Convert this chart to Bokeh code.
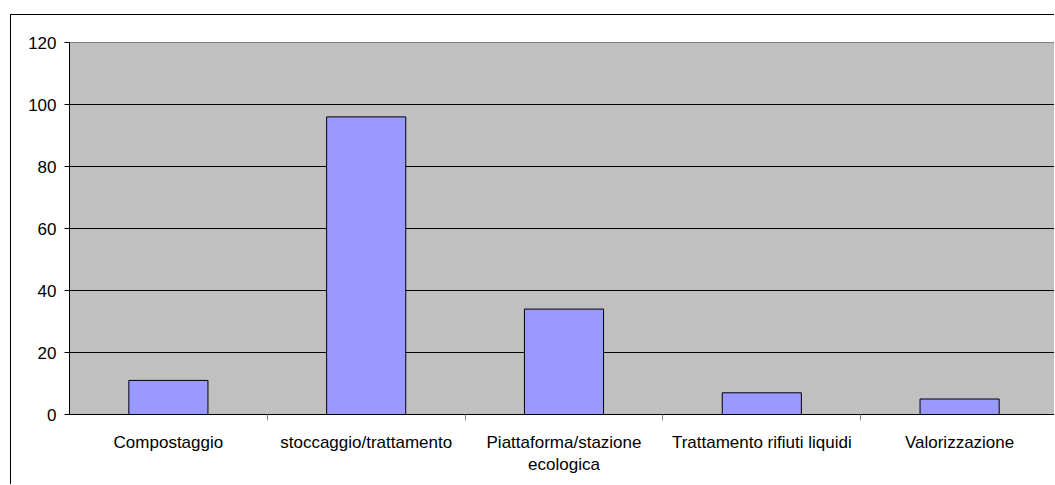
from bokeh.plotting import figure
from bokeh.models import ColumnDataSource, FixedTicker, Range1d
from bokeh.embed import file_html
from bokeh.resources import INLINE

categories = ["Compostaggio", "stoccaggio/trattamento", "Piattaforma/stazione\necologica",
              "Trattamento rifiuti liquidi", "Valorizzazione"]
values = [11, 96, 34, 7, 5]
y_ticks = [0, 20, 40, 60, 80, 100, 120]

centers = [i + 0.5 for i in range(len(categories))]
source = ColumnDataSource(dict(x=centers, top=values, cat=categories))

FONT = "Liberation Sans"

p = figure(width=1044, height=470, output_backend="svg", toolbar_location=None,
           x_range=Range1d(0, 986 / 197.8), y_range=Range1d(0, 120),
           min_border_left=58, min_border_right=0, min_border_top=27, min_border_bottom=71)
p.styles = {"border-left": "1px solid black", "border-top": "1px solid black",
            "margin-left": "10px", "margin-top": "14px"}

p.background_fill_color = "#C0C0C0"
p.border_fill_color = "white"
p.outline_line_color = "#808080"
p.outline_line_width = 1

p.vbar(x="x", top="top", width=0.4, source=source, fill_color="#9999FF",
       line_color="black", line_width=1)

# y axis
p.yaxis.ticker = FixedTicker(ticks=y_ticks)
p.yaxis.axis_line_color = "black"
p.yaxis.major_tick_line_color = "black"
p.yaxis.major_tick_out = 5
p.yaxis.major_tick_in = 0
p.yaxis.minor_tick_line_color = None
p.yaxis.major_label_text_font = FONT
p.yaxis.major_label_text_font_size = "17px"
p.yaxis.major_label_text_color = "black"
p.yaxis.major_label_standoff = 8

# x axis
p.xaxis.ticker = FixedTicker(ticks=centers, minor_ticks=[1, 2, 3, 4])
p.xaxis.major_label_overrides = {c: lab for c, lab in zip(centers, categories)}
p.xaxis.axis_line_color = "black"
p.xaxis.major_tick_line_color = None
p.xaxis.major_tick_out = 0
p.xaxis.major_tick_in = 0
p.xaxis.minor_tick_line_color = "#808080"
p.xaxis.minor_tick_out = 6
p.xaxis.minor_tick_in = 0
p.xaxis.major_label_text_font = FONT
p.xaxis.major_label_text_font_size = "17px"
p.xaxis.major_label_text_color = "black"
p.xaxis.major_label_standoff = 12

# grid
p.xgrid.grid_line_color = None
p.ygrid.ticker = FixedTicker(ticks=[20, 40, 60, 80, 100])
p.ygrid.grid_line_color = "black"
p.ygrid.grid_line_width = 1

open("out.html", "w").write(file_html(p, INLINE))
